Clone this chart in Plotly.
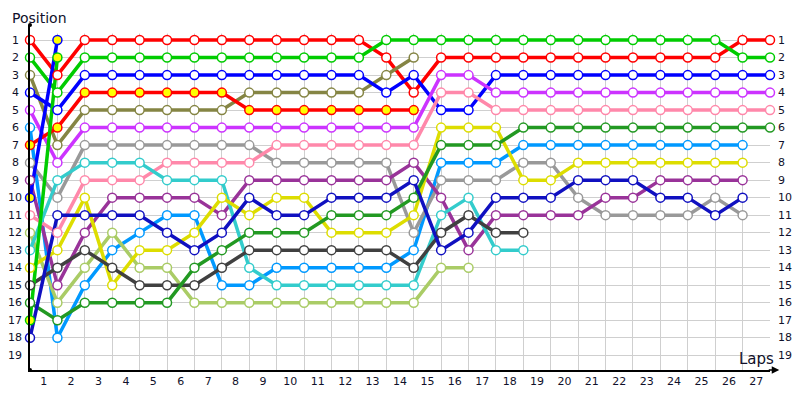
import plotly.graph_objects as go

laps = list(range(0, 28))
lap_labels = [str(k) for k in range(1, 28)]
positions = list(range(1, 20))

N = None
red = [1, 3, 1, 1, 1, 1, 1, 1, 1, 1, 1, 1, 1, 2, 4, 2, 2, 2, 2, 2, 2, 2, 2, 2, 2, 2, 1, 1]
green = [2, 4, 2, 2, 2, 2, 2, 2, 2, 2, 2, 2, 2, 1, 1, 1, 1, 1, 1, 1, 1, 1, 1, 1, 1, 1, 2, 2]
olive = [3, 7, 5, 5, 5, 5, 5, 5, 4, 4, 4, 4, 4, 3, 2, N, N, N, N, N, N, N, N, N, N, N, N, N]
blue = [4, 5, 3, 3, 3, 3, 3, 3, 3, 3, 3, 3, 3, 4, 3, 5, 5, 3, 3, 3, 3, 3, 3, 3, 3, 3, 3, 3]
purple = [5, 8, 6, 6, 6, 6, 6, 6, 6, 6, 6, 6, 6, 6, 6, 3, 3, 4, 4, 4, 4, 4, 4, 4, 4, 4, 4, 4]
ltblue = [6, 18, 15, 13, 12, 11, 11, 15, 15, 14, 14, 14, 14, 14, 13, 8, 8, 8, 7, 7, 7, 7, 7, 7, 7, 7, 7, N]
redyel = [7, 6, 4, 4, 4, 4, 4, 4, 5, 5, 5, 5, 5, 5, 5, N, N, N, N, N, N, N, N, N, N, N, N, N]
gray = [8, 10, 7, 7, 7, 7, 7, 7, 7, 8, 8, 8, 8, 8, 12, 9, 9, 9, 8, 8, 10, 11, 11, 11, 11, 10, 11, N]
dkpurple = [9, 15, 12, 10, 10, 10, 10, 11, 9, 9, 9, 9, 9, 9, 8, 10, 13, 11, 11, 11, 11, 10, 10, 9, 9, 9, 9, N]
blueyel = [10, 1, N, N, N, N, N, N, N, N, N, N, N, N, N, N, N, N, N, N, N, N, N, N, N, N, N, N]
pink = [11, 12, 9, 9, 9, 8, 8, 8, 8, 7, 7, 7, 7, 7, 7, 4, 4, 5, 5, 5, 5, 5, 5, 5, 5, 5, 5, 5]
ltgreen = [12, 16, 14, 12, 14, 14, 16, 16, 16, 16, 16, 16, 16, 16, 16, 14, 14, N, N, N, N, N, N, N, N, N, N, N]
teal = [13, 9, 8, 8, 8, 9, 9, 9, 14, 15, 15, 15, 15, 15, 15, 11, 10, 13, 13, N, N, N, N, N, N, N, N, N]
yellow = [14, 13, 10, 15, 13, 13, 12, 10, 11, 10, 10, 12, 12, 12, 11, 6, 6, 6, 9, 9, 8, 8, 8, 8, 8, 8, 8, N]
dkgray = [15, 14, 13, 14, 15, 15, 15, 14, 13, 13, 13, 13, 13, 13, 14, 12, 11, 12, 12, N, N, N, N, N, N, N, N, N]
dkgreen = [16, 17, 16, 16, 16, 16, 14, 13, 12, 12, 12, 11, 11, 11, 10, 7, 7, 7, 6, 6, 6, 6, 6, 6, 6, 6, 6, 6]
greenyel = [17, 2, N, N, N, N, N, N, N, N, N, N, N, N, N, N, N, N, N, N, N, N, N, N, N, N, N, N]
navy = [18, 11, 11, 11, 11, 12, 13, 12, 10, 11, 11, 10, 10, 10, 9, 13, 12, 10, 10, 10, 9, 9, 9, 10, 10, 11, 10, N]

# (name, values, line colour, marker fill)
drivers = [
    ("Car A", red, "#FF0000", "white"),
    ("Car B", green, "#00CC00", "white"),
    ("Car C", olive, "#858544", "white"),
    ("Car D", blue, "#0000FF", "white"),
    ("Car E", purple, "#CC33FF", "white"),
    ("Car F", ltblue, "#0099FF", "white"),
    ("Car G", redyel, "#FF0000", "#FFFF00"),
    ("Car H", gray, "#999999", "white"),
    ("Car I", dkpurple, "#993399", "white"),
    ("Car J", blueyel, "#0000FF", "#FFFF00"),
    ("Car K", pink, "#FF88AA", "white"),
    ("Car L", ltgreen, "#AACC66", "white"),
    ("Car M", teal, "#33CCCC", "white"),
    ("Car N", yellow, "#DDDD00", "white"),
    ("Car O", dkgray, "#404040", "white"),
    ("Car P", dkgreen, "#229922", "white"),
    ("Car Q", greenyel, "#00CC00", "#FFFF00"),
    ("Car R", navy, "#1010C0", "white"),
]

fig = go.Figure()
for name, vals, col, fill in drivers:
    fig.add_trace(go.Scatter(x=laps, y=vals, mode="lines", name=name,
                             line=dict(color=col, width=3.5), cliponaxis=False,
                             hoverinfo="skip", showlegend=False))
for name, vals, col, fill in drivers:
    fig.add_trace(go.Scatter(x=laps, y=vals, mode="markers", name=name,
                             marker=dict(size=9, color=fill, line=dict(color=col, width=1.5)),
                             cliponaxis=False, showlegend=False))

tick_font = dict(family="DejaVu Sans", size=11, color="#10102a")

fig.update_xaxes(range=[0, 27], tickvals=[k - 0.5 for k in range(1, 28)], ticktext=lap_labels,
                 showgrid=False, zeroline=False, ticks="", showline=True, linecolor="black",
                 linewidth=1.5, tickfont=tick_font,
                 minor=dict(tick0=0, dtick=1, showgrid=True, gridcolor="#CFCFCF", gridwidth=1, ticks=""))
fig.update_yaxes(range=[19.845, 0.139], tickvals=positions, showticklabels=False,
                 showgrid=True, gridcolor="#CFCFCF", gridwidth=1, zeroline=False, ticks="",
                 showline=True, linecolor="black", linewidth=1.5)

ann = []
for p in positions:
    ann.append(dict(x=0, xref="paper", y=p, yref="y", text=str(p), showarrow=False,
                    xanchor="center", xshift=-15, font=tick_font))
    ann.append(dict(x=1, xref="paper", y=p, yref="y", text=str(p), showarrow=False,
                    xanchor="left", xshift=6, font=tick_font))
ann.append(dict(x=0, xref="paper", y=1, yref="paper", text="Position", showarrow=False,
                xanchor="left", yanchor="middle", xshift=-20, yshift=7,
                font=dict(family="DejaVu Sans", size=14, color="#10102a")))
ann.append(dict(x=1, xref="paper", y=0, yref="paper", text="Laps", showarrow=False,
                xanchor="right", yanchor="middle", xshift=6, yshift=11,
                font=dict(family="DejaVu Sans", size=15, color="#10102a")))
ann.append(dict(x=1.0125, xref="paper", y=0, yref="paper", ax=-12, ay=0, text="",
                showarrow=True, arrowhead=2, arrowsize=1, arrowwidth=1.5, arrowcolor="black"))

shapes = [
    # blank strip above the grid (grid lines start a little below the axis tip)
    dict(type="rect", xref="x", yref="y", x0=0, x1=27.1, y0=0.139, y1=0.62,
         fillcolor="white", line=dict(width=0), layer="between"),
    dict(type="circle", xref="paper", yref="paper", xsizemode="pixel", ysizemode="pixel",
         xanchor=0, yanchor=1, x0=-2, x1=2, y0=-2, y1=2, fillcolor="black", line=dict(width=0)),
    dict(type="circle", xref="paper", yref="paper", xsizemode="pixel", ysizemode="pixel",
         xanchor=0, yanchor=0, x0=-2, x1=2, y0=-2, y1=2, fillcolor="black", line=dict(width=0)),
]

# page body has an 8px default margin, so the figure is sized/offset to compensate
fig.update_layout(width=792, height=392, margin=dict(l=22, r=30, t=17, b=25),
                  paper_bgcolor="white", plot_bgcolor="white",
                  annotations=ann, shapes=shapes, showlegend=False)

fig.write_html("out.html")
